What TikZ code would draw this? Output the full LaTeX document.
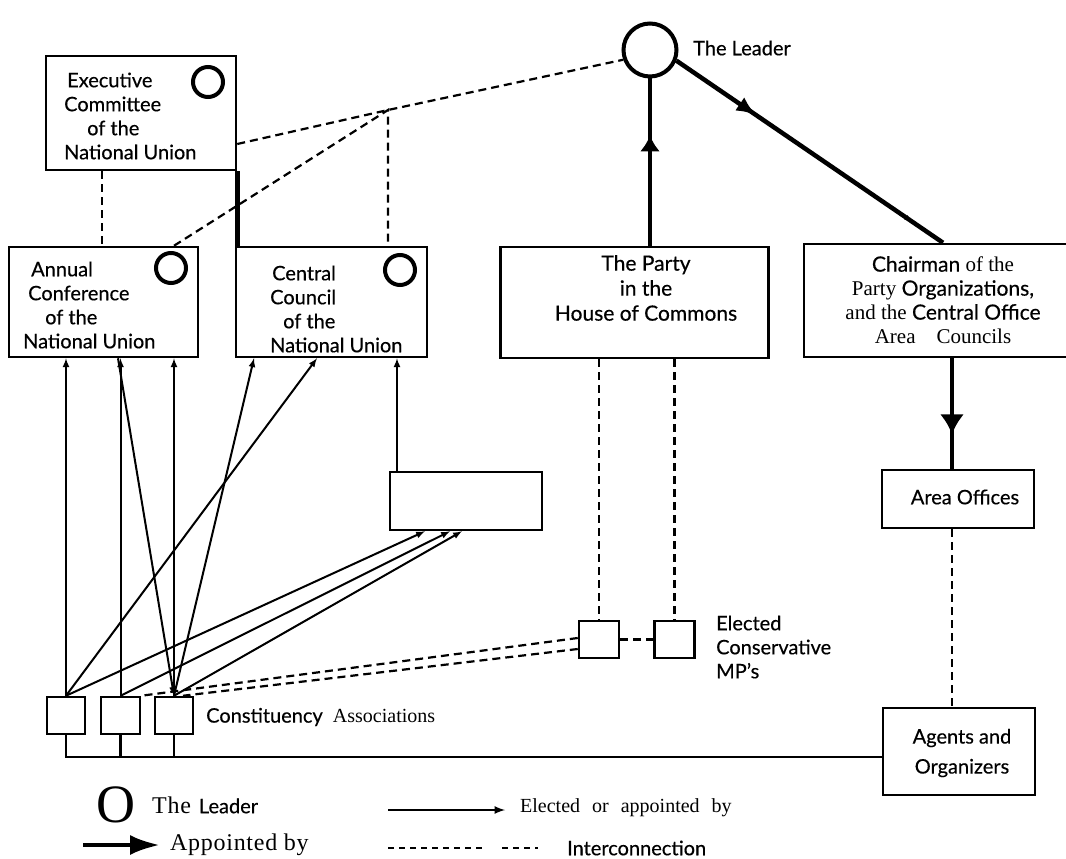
\documentclass[tikz,border=0pt]{standalone}
\usepackage{fontspec}
\setmainfont{Liberation Serif}
\newfontfamily\optima[FakeBold=0.4]{Lato}
\newfontfamily\spaced[LetterSpace=3]{Liberation Serif}
\usetikzlibrary{arrows.meta,decorations.markings}

\tikzset{
  box/.style={draw,line width=2.5pt,rectangle,inner sep=0pt},
  ring/.style={draw,circle,line width=4pt,minimum size=30pt,inner sep=0pt},
  elect/.style={->,>=latex,line width=2pt},
  appoint/.style={line width=4.5pt},
  inter/.style={line width=2.2pt,dash pattern=on 8pt off 5pt},
  midarrow/.style n args={3}{postaction={decorate,decoration={markings,
      mark=at position #1 with {\arrow{Latex[length=#2,width=#3]}}}}},
  lab/.style={font=\optima\fontsize{20}{24}\selectfont,inner sep=0pt},
}

\begin{document}
\begin{tikzpicture}[x=1pt,y=-1pt]
\useasboundingbox[fill=white] (0,0) rectangle (1066,859);

% National Union
\node[box,minimum width=190pt,minimum height=114pt] (exec) at (141,113) {};
\node[box,minimum width=189pt,minimum height=110pt] (annual) at (103.5,302) {};
\node[box,minimum width=191pt,minimum height=110pt] (central) at (331.5,302) {};
\node[box,minimum width=152pt,minimum height=58pt] (small) at (466,501) {};
\node[ring] (execO) at (208,82) {};
\node[ring] (annualO) at (171,268) {};
\node[ring] (centralO) at (400,270) {};
\node[lab,anchor=west,align=left] (execT) at (64,116)
  {\hspace{3pt}Executive\\Committee\\\hspace{23pt}of the\\National Union};
\node[lab,anchor=west,align=left] (annualT) at (23,305)
  {\hspace{8pt}Annual\\\hspace{5pt}Conference\\\hspace{22pt}of the\\National Union};
\node[lab,anchor=west,align=left] (centralT) at (270,309)
  {\hspace{2pt}Central\\Council\\\hspace{13pt}of the\\National Union};

% Leader, party and central office
\node[ring,minimum size=53pt] (leader) at (650,50) {};
\node[lab,anchor=west] (leaderT) at (693,48) {The Leader};
\node[box,minimum width=268pt,minimum height=111pt] (party) at (634.5,302.5) {};
\node[lab,align=center,font=\optima\fontsize{21}{25}\selectfont] (partyT) at (646,288)
  {The Party\\in the\\House of Commons};
\node[box,minimum width=268pt,minimum height=113pt] (chair) at (938,300.5) {};
\node[lab,align=center,font=\optima\fontsize{21}{24}\selectfont] (chairT) at (943,300)
  {Chairman {\rmfamily of\ the}\\{\rmfamily Party} Organizations,\\{\rmfamily and the} Central Office\\{\rmfamily Area\quad Councils}};
\node[box,minimum width=152pt,minimum height=58pt] (area) at (958,499) {};
\node[lab] (areaT) at (965,497) {Area Offices};
\node[box,minimum width=152pt,minimum height=87pt] (agents) at (959,751.5) {};
\node[lab,align=center] (agentsT) at (962,753) {Agents and\\[6pt]Organizers};

% MPs and constituencies
\node[box,minimum width=40pt,minimum height=37pt] (mp1) at (599,639.5) {};
\node[box,minimum width=40pt,minimum height=37pt] (mp2) at (674.5,639.5) {};
\node[lab,anchor=west,align=left] (mpT) at (716,647) {Elected\\Conservative\\MP’s};
\node[box,minimum width=38pt,minimum height=37pt] (ca1) at (66,715.5) {};
\node[box,minimum width=39pt,minimum height=37pt] (ca2) at (120.5,715.5) {};
\node[box,minimum width=38pt,minimum height=37pt] (ca3) at (174,715.5) {};
\node[lab,anchor=west] (caT) at (206,717) {Constituency\ \ {\rmfamily Associations}};

% appointed by
\draw[appoint] (exec.south east) -- (exec.south east |- central.north);
\draw[appoint,midarrow={0.66}{16pt}{20pt}] ([xshift=15.5pt]party.north) -- (leader.south);
\draw[appoint,midarrow={0.3}{20pt}{16pt},midarrow={0.88}{6pt}{6pt}] (leader.-22) -- ([xshift=5pt]chair.north);
\draw[appoint,midarrow={0.69}{20pt}{24pt}] ([xshift=14pt]chair.south) -- ([xshift=-6pt]area.north);

% interconnection
\coordinate (j) at (388,110);
\draw[inter] ([xshift=-39.4pt]exec.south) -- ([xshift=-1.9pt]annual.north);
\draw[inter] ([yshift=-31pt]exec.east) -- (j) -- (leader.200);
\draw[inter] ([xshift=70.5pt]annual.north) -- (j) -- ([xshift=56.5pt]central.north);
\draw[inter] ([xshift=-35.5pt]party.south) -- (mp1.north);
\draw[inter] ([xshift=40pt]party.south) -- (mp2.north);
\draw[inter] (mp1.east) -- (mp2.west);
\draw[inter] ([yshift=1.5pt]mp1.west) -- (ca2.north east);
\draw[inter] ([yshift=-9.5pt]mp1.west) -- ([xshift=9pt]ca3.north);
\draw[inter] ([xshift=-6pt]area.south) -- ([xshift=-7pt]agents.north);

% elected or appointed by
\draw[elect] (ca1.north) -- (ca1.north |- annual.south);
\draw[elect] (ca2.north) -- (ca2.north |- annual.south);
\draw[elect] (ca3.north) -- (ca3.north |- annual.south);
\draw[elect] ([xshift=14.5pt]annual.south) -- (ca3.north);
\draw[elect] (ca1.north) -- ([xshift=-14.5pt]central.south);
\draw[elect] (ca3.north) -- ([xshift=-77.5pt]central.south);
\draw[elect] ([xshift=-69pt]small.north) -- ([xshift=65.5pt]central.south);
\draw[elect] (ca1.north) -- ([xshift=-41pt]small.south);
\draw[elect] (ca2.north) -- ([xshift=-16pt]small.south);
\draw[elect] (ca3.north) -- ([xshift=-4pt]small.south);

% links to the agents
\coordinate (base) at (0,757);
\draw[line width=2.5pt] (ca1.south) |- (agents.west |- base);
\draw[line width=2.5pt] (ca2.south) -- (ca2.south |- base);
\draw[line width=2.5pt] (ca3.south) -- (ca3.south |- base);

% key
\node[font=\fontsize{54}{54}\selectfont,inner sep=0pt] (keyO) at (116,805) {O};
\node[anchor=west,inner sep=0pt,font=\fontsize{24}{28}\selectfont] (keyLeader) at (152,805)
  {{\spaced The}\hspace{8pt}{\optima\fontsize{20}{24}\selectfont Leader}};
\coordinate (ap1) at (83,845);
\coordinate (ap2) at (160,845);
\draw[appoint,-{Latex[length=30pt,width=20pt]}] (ap1) -- (ap2);
\node[anchor=west,inner sep=0pt,font=\fontsize{24}{28}\selectfont] (keyAp) at (170,845)
  {\spaced Appointed by};
\coordinate (el1) at (388,810);
\coordinate (el2) at (505,810);
\draw[elect,line width=2.5pt] (el1) -- (el2);
\node[anchor=west,inner sep=0pt,font=\fontsize{20}{24}\selectfont] (keyEl) at (520,808)
  {Elected\hspace{12pt}or\hspace{12pt}appointed\hspace{12pt}by};
\coordinate (ic1) at (388,848);
\coordinate (ic2) at (486,848);
\coordinate (ic3) at (502,848);
\coordinate (ic4) at (538,848);
\draw[line width=1.3pt,dash pattern=on 6pt off 5pt] (ic1) -- (ic2) (ic3) -- (ic4);
\node[lab,anchor=west] (keyIc) at (567,848) {Interconnection};
\end{tikzpicture}
\end{document}
